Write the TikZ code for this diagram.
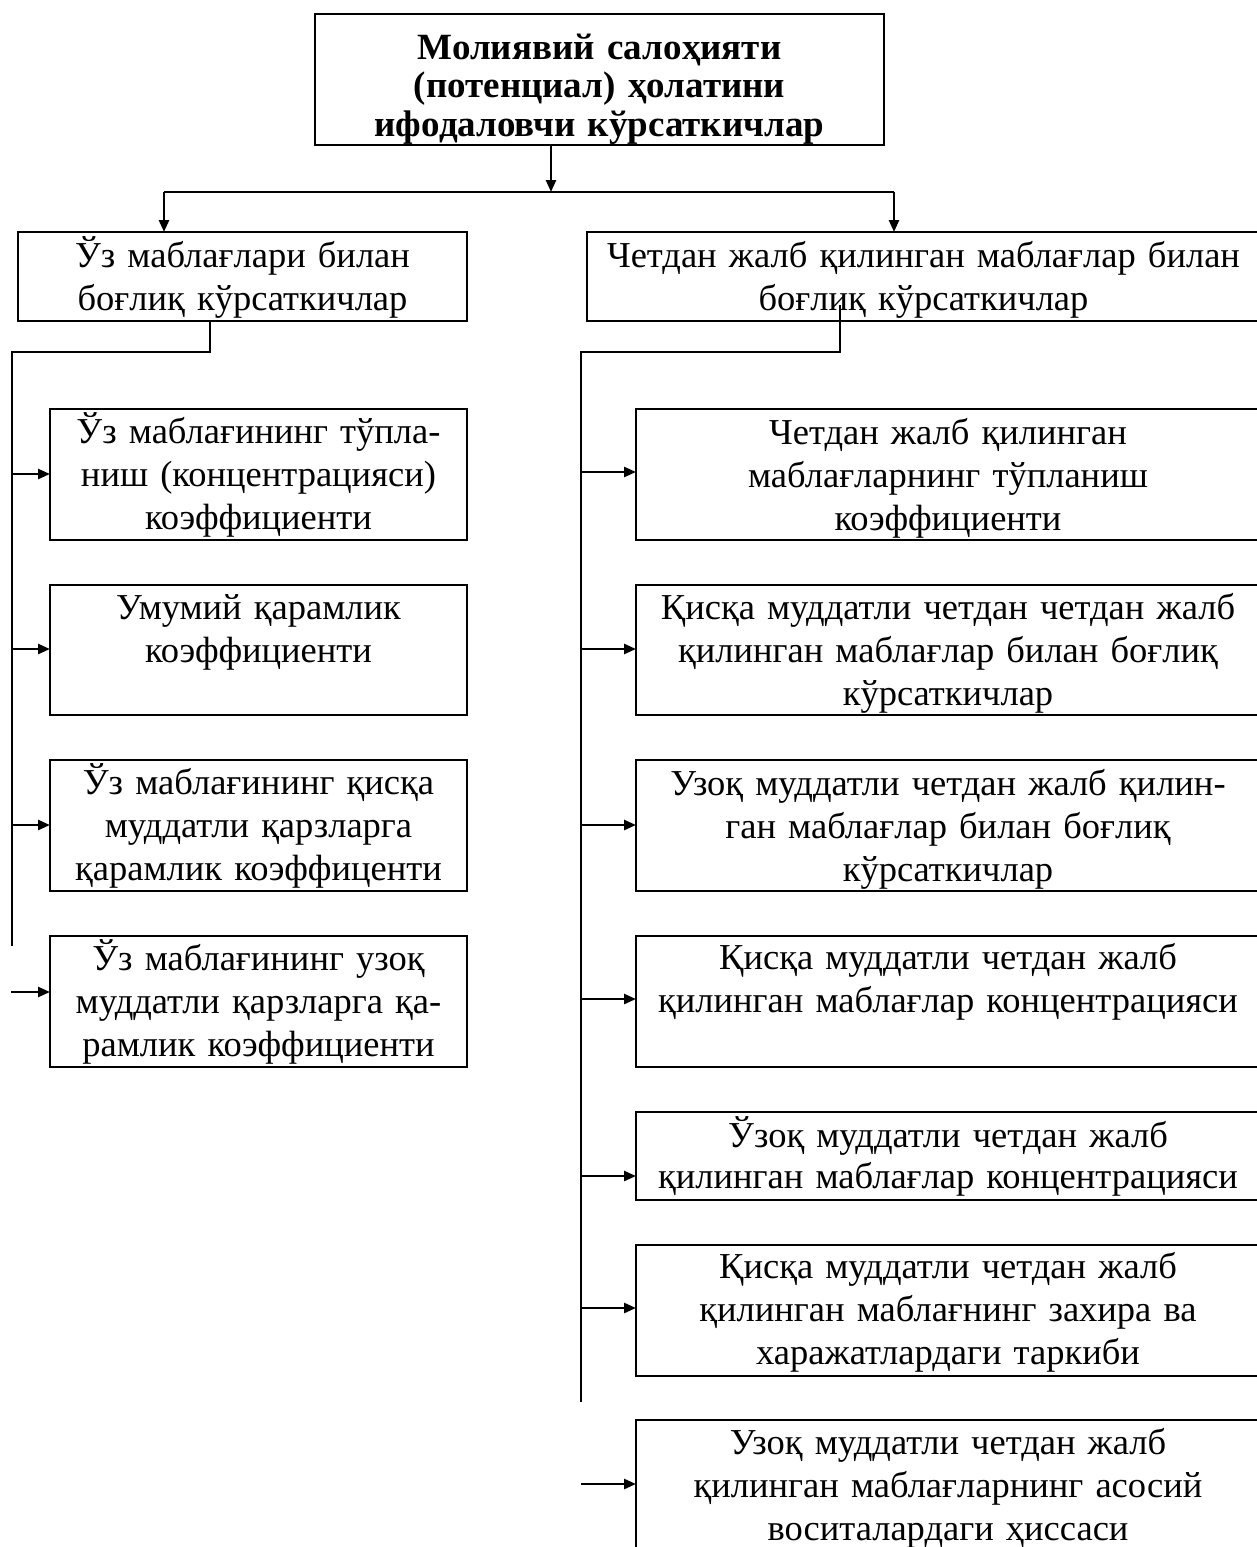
\documentclass[tikz,border=0pt]{standalone}
\usepackage{fontspec}
\setmainfont{Liberation Serif}
\usetikzlibrary{arrows.meta}
\begin{document}
\begin{tikzpicture}[x=1pt,y=-1pt,
  box/.style={draw, line width=2.8pt, rectangle, inner sep=0pt, outer sep=0pt, anchor=north west},
  txt/.style={inner sep=0pt, align=center, text width=720pt, anchor=base, font=\fontsize{36.5}{43}\selectfont},
  ttl/.style={inner sep=0pt, align=center, text width=720pt, anchor=base, font=\bfseries\fontsize{37}{38.5}\selectfont},
  conn/.style={line width=2.6pt},
  arr/.style={line width=2.6pt, -{Triangle[length=12pt,width=10pt]}}]
\useasboundingbox (0,0) rectangle (1256,1547);

% boxes
\node[box, minimum width=569pt, minimum height=131pt] (top) at (315,14) {};
\node[ttl] (topt) at ([yshift=-45pt]top.north) {Молиявий салоҳияти\\(потенциал) ҳолатини\\ифодаловчи кўрсаткичлар};

\node[box, minimum width=449pt, minimum height=89pt] (L1) at (18,232) {};
\node[txt] (L1t) at ([yshift=-35pt]L1.north) {Ўз маблағлари билан\\боғлиқ кўрсаткичлар};

\node[box, minimum width=673pt, minimum height=89pt] (R1) at (587,232) {};
\node[txt] (R1t) at ([yshift=-35pt]R1.north) {Четдан жалб қилинган маблағлар билан\\боғлиқ кўрсаткичлар};

\node[box, minimum width=417pt, minimum height=131pt] (L2) at (50,409) {};
\node[txt] (L2t) at ([yshift=-34pt]L2.north) {Ўз маблағининг тўпла-\\ниш (концентрацияси)\\коэффициенти};

\node[box, minimum width=417pt, minimum height=130pt] (L3) at (50,585) {};
\node[txt] (L3t) at ([yshift=-34pt]L3.north) {Умумий қарамлик\\коэффициенти};

\node[box, minimum width=417pt, minimum height=131pt] (L4) at (50,760) {};
\node[txt] (L4t) at ([yshift=-34pt]L4.north) {Ўз маблағининг қисқа\\муддатли қарзларга\\қарамлик коэффиценти};

\node[box, minimum width=417pt, minimum height=131pt] (L5) at (50,936) {};
\node[txt] (L5t) at ([yshift=-34pt]L5.north) {Ўз маблағининг узоқ\\муддатли қарзларга қа-\\рамлик коэффициенти};

\node[box, minimum width=624pt, minimum height=131pt] (R2) at (636,409) {};
\node[txt] (R2t) at ([yshift=-35pt]R2.north) {Четдан жалб қилинган\\маблағларнинг тўпланиш\\коэффициенти};

\node[box, minimum width=624pt, minimum height=130pt] (R3) at (636,585) {};
\node[txt] (R3t) at ([yshift=-34pt]R3.north) {Қисқа муддатли четдан четдан жалб\\қилинган маблағлар билан боғлиқ\\кўрсаткичлар};

\node[box, minimum width=624pt, minimum height=131pt] (R4) at (636,760) {};
\node[txt] (R4t) at ([yshift=-35pt]R4.north) {Узоқ муддатли четдан жалб қилин-\\ган маблағлар билан боғлиқ\\кўрсаткичлар};

\node[box, minimum width=624pt, minimum height=131pt] (R5) at (636,936) {};
\node[txt] (R5t) at ([yshift=-33pt]R5.north) {Қисқа муддатли четдан жалб\\қилинган маблағлар концентрацияси};

\node[box, minimum width=624pt, minimum height=88pt] (R6) at (636,1112) {};
\node[txt, font=\fontsize{36.5}{41}\selectfont] (R6t) at ([yshift=-35pt]R6.north) {Ўзоқ муддатли четдан жалб\\қилинган маблағлар концентрацияси};

\node[box, minimum width=624pt, minimum height=131pt] (R7) at (636,1245) {};
\node[txt] (R7t) at ([yshift=-33pt]R7.north) {Қисқа муддатли четдан жалб\\қилинган маблағнинг захира ва\\харажатлардаги таркиби};

\node[box, minimum width=624pt, minimum height=150pt] (R8) at (636,1420) {};
\node[txt] (R8t) at ([yshift=-34pt]R8.north) {Узоқ муддатли четдан жалб\\қилинган маблағларнинг асосий\\воситалардаги ҳиссаси};

% top connectors
\coordinate (jt) at (551,192);
\coordinate (jl) at (164,192);
\coordinate (jr) at (894,192);
\draw[arr] (top.south -| jt) -- (jt);
\draw[conn] (jl) -- (jr);
\draw[arr] (jl) -- (jl |- L1.north);
\draw[arr] (jr) -- (jr |- R1.north);

% left trunk
\coordinate (lb) at (210,352);
\coordinate (lc) at (12,352);
\coordinate (le) at (12,946);
\draw[conn] (L1.south -| lb) -- (lb) -- (lc) -- (le);
\coordinate (la2) at (12,474);
\coordinate (la3) at (12,649);
\coordinate (la4) at (12,825);
\coordinate (la5) at (11,992);
\draw[arr] (la2) -- (la2 -| L2.west);
\draw[arr] (la3) -- (la3 -| L3.west);
\draw[arr] (la4) -- (la4 -| L4.west);
\draw[arr] (la5) -- (la5 -| L5.west);

% right trunk
\coordinate (rb) at (840,305);
\coordinate (rc) at (840,352);
\coordinate (rd) at (581,352);
\coordinate (re) at (581,1402);
\draw[conn] (rb) -- (rc) -- (rd) -- (re);
\coordinate (ra2) at (581,472);
\coordinate (ra3) at (581,649);
\coordinate (ra4) at (581,825);
\coordinate (ra5) at (581,999);
\coordinate (ra6) at (581,1176);
\coordinate (ra7) at (581,1308);
\coordinate (ra8) at (581,1484);
\draw[arr] (ra2) -- (ra2 -| R2.west);
\draw[arr] (ra3) -- (ra3 -| R3.west);
\draw[arr] (ra4) -- (ra4 -| R4.west);
\draw[arr] (ra5) -- (ra5 -| R5.west);
\draw[arr] (ra6) -- (ra6 -| R6.west);
\draw[arr] (ra7) -- (ra7 -| R7.west);
\draw[arr] (ra8) -- (ra8 -| R8.west);
\end{tikzpicture}
\end{document}
